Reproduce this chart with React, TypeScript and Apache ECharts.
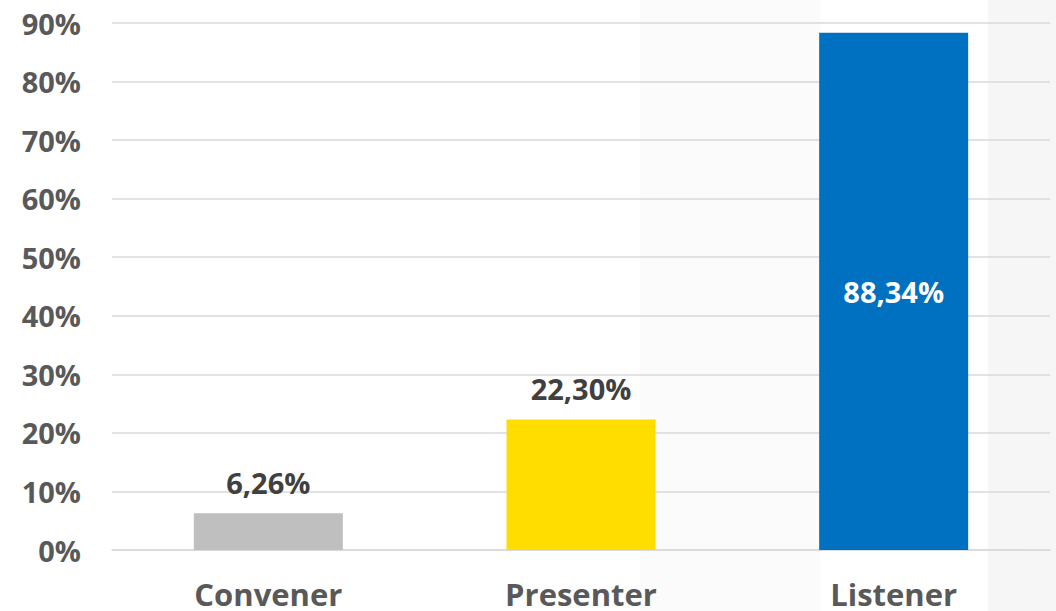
import React, { useEffect, useRef } from "react";
import * as echarts from "echarts";

const categories = ["Convener", "Presenter", "Listener"];
const values = [6.26, 22.3, 88.34];
const valueLabels = ["6,26%", "22,30%", "88,34%"];
const barColors = ["#BFBFBF", "#FFDD00", "#0070C0"];
const labelColors = ["#404040", "#404040", "#FFFFFF"];
const labelPositions = ["top", "top", "inside"];

export default function App() {
  const ref = useRef<HTMLDivElement>(null);
  useEffect(() => {
    if (!ref.current) return;
    const chart = echarts.init(ref.current, undefined, { renderer: "svg" });
    const font = "'Open Sans', 'Noto Sans', sans-serif";
    chart.setOption({
      animation: false,
      backgroundColor: "#ffffff",
      graphic: [
        { type: "rect", z: -10, shape: { x: 988, y: 0, width: 68, height: 611 }, style: { fill: "#f6f6f6" } },
        { type: "rect", z: -10, shape: { x: 640, y: 0, width: 180, height: 611 }, style: { fill: "#fbfbfb" } },
      ],
      grid: { left: 112, right: 6, top: 23, bottom: 61, containLabel: false },
      xAxis: {
        type: "category",
        data: categories,
        axisLine: { show: true, lineStyle: { color: "#d9d9d9", width: 1.5 } },
        axisTick: { show: false },
        axisLabel: {
          color: "#595959",
          fontFamily: font,
          fontWeight: "bold",
          fontSize: 31,
          margin: 28,
        },
      },
      yAxis: {
        type: "value",
        min: 0,
        max: 90,
        interval: 10,
        axisLine: { show: false },
        axisTick: { show: false },
        splitLine: { lineStyle: { color: "#d9d9d9", width: 1.5 } },
        axisLabel: {
          formatter: "{value}%",
          color: "#595959",
          fontFamily: font,
          fontWeight: "bold",
          fontSize: 29,
          margin: 31,
        },
      },
      series: [
        {
          type: "bar",
          barWidth: 149,
          data: values.map((v, i) => ({
            value: v,
            itemStyle: { color: barColors[i] },
            label: {
              show: true,
              position: labelPositions[i],
              distance: 16,
              formatter: valueLabels[i],
              color: labelColors[i],
              fontFamily: font,
              fontWeight: "bold",
              fontSize: 29,
            },
          })),
        },
      ],
    });
    return () => chart.dispose();
  }, []);
  return (
    <div
      ref={ref}
      style={{ position: "fixed", left: 0, top: 0, width: 1056, height: 611 }}
    />
  );
}
